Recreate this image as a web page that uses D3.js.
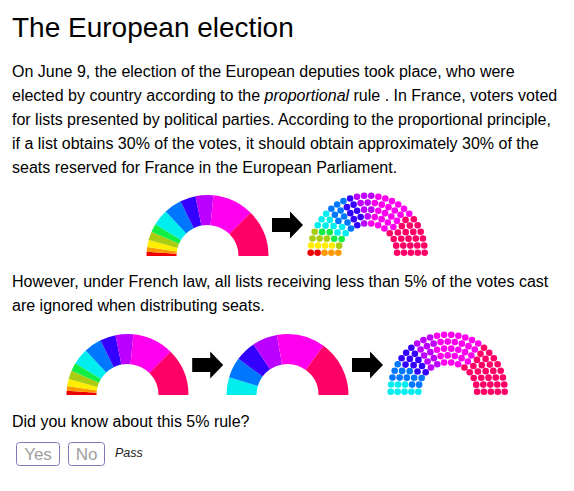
<!DOCTYPE html>
<html>
<head>
<meta charset="utf-8">
<script src="https://cdn.jsdelivr.net/npm/d3@7"></script>
<style>
  html, body { margin: 0; padding: 0; background: #fff; }
  svg { display: block; font-family: "Liberation Sans", Arial, Helvetica, sans-serif; }
</style>
</head>
<body>
<svg id="chart" width="574" height="491"></svg>
<script>
// ---- data ----
const listColors = ["#ee0000", "#ff9900", "#ffee00", "#aacc11", "#11ee44", "#00eeee", "#0077ff", "#3300ff", "#bb00ff", "#ff00ee", "#ff0066"];
const votesAll = [2.2, 2.5, 3.7, 4.6, 4.4, 8.6, 9.4, 8.3, 9.4, 21.9, 25.0];
const seatsProportional = [2, 3, 4, 5, 4, 9, 9, 8, 9, 22, 25];
const keptColors = ["#00eeee", "#0077ff", "#3300ff", "#bb00ff", "#ff00ee", "#ff0066"];
const votesKept = [9.4, 10.8, 10.9, 13.3, 25.7, 29.9];
const seatsThreshold = [8, 11, 11, 12, 27, 31];
const rowSeats = [14, 17, 20, 23, 26];

const titleText = "The European election";
const introLines = [
  ["On June 9, the election of the European deputies took place, who were"],
  ["elected by country according to the ", {i: "proportional"}, " rule . In France, voters voted"],
  ["for lists presented by political parties. According to the proportional principle,"],
  ["if a list obtains 30% of the votes, it should obtain approximately 30% of the"],
  ["seats reserved for France in the European Parliament."]
];
const lawLines = [
  "However, under French law, all lists receiving less than 5% of the votes cast",
  "are ignored when distributing seats."
];
const questionText = "Did you know about this 5% rule?";
const answers = ["Yes", "No"];

// ---- drawing ----
const svg = d3.select("#chart");

svg.append("text").attr("x", 12).attr("y", 37)
  .attr("font-size", 28).attr("fill", "#000").text(titleText);

function para(lines, y0, dy) {
  lines.forEach((parts, k) => {
    const t = svg.append("text").attr("x", 12).attr("y", y0 + k * dy)
      .attr("font-size", 16).attr("fill", "#000");
    (Array.isArray(parts) ? parts : [parts]).forEach(p => {
      if (typeof p === "string") t.append("tspan").text(p);
      else t.append("tspan").attr("font-style", "italic").text(p.i);
    });
  });
}
para(introLines, 77, 24);
para(lawLines, 287, 23.5);

const rOuter = 61, rInner = 31;
const arc = d3.arc().innerRadius(rInner).outerRadius(rOuter);
const pie = d3.pie().sort(null).startAngle(-Math.PI / 2).endAngle(Math.PI / 2);

function drawPie(cx, base, values, colors) {
  const g = svg.append("g").attr("transform", `translate(${cx},${base})`);
  g.selectAll("path").data(pie(values)).join("path")
    .attr("d", arc).attr("fill", (d, i) => colors[i]);
}

const parlOuter = 57, parlInner = 29.4, dotR = 3.3;
const rowRadius = d3.scaleLinear().domain([0, rowSeats.length - 1]).range([parlInner, parlOuter]);

function drawParliament(cx, base, seats, colors) {
  const pts = [];
  rowSeats.forEach((n, ri) => {
    const r = rowRadius(ri);
    const ang = d3.scaleLinear().domain([0, n - 1]).range([Math.PI, 0]);
    for (let j = 0; j < n; j++) pts.push({a: ang(j), r});
  });
  pts.sort((p, q) => d3.descending(p.a, q.a) || d3.descending(p.r, q.r));
  const owner = [];
  seats.forEach((s, i) => { for (let k = 0; k < s; k++) owner.push(i); });
  const g = svg.append("g").attr("transform", `translate(${cx},${base - dotR})`);
  g.selectAll("circle").data(pts).join("circle")
    .attr("cx", d => d.r * Math.cos(d.a))
    .attr("cy", d => -d.r * Math.sin(d.a))
    .attr("r", dotR)
    .attr("fill", (d, i) => colors[owner[i]]);
}

function drawArrow(cx, cy) {
  const p = d3.path();
  p.moveTo(cx - 15.5, cy - 7);
  p.lineTo(cx + 2.5, cy - 7);
  p.lineTo(cx + 2.5, cy - 13.5);
  p.lineTo(cx + 15.5, cy);
  p.lineTo(cx + 2.5, cy + 13.5);
  p.lineTo(cx + 2.5, cy + 7);
  p.lineTo(cx - 15.5, cy + 7);
  p.closePath();
  svg.append("path").attr("d", p.toString()).attr("fill", "#000");
}

// row 1
const base1 = 256;
drawPie(207.5, base1, votesAll, listColors);
drawArrow(287.5, base1 - 31);
drawParliament(367.7, base1, seatsProportional, listColors);

// row 2
const base2 = 395;
drawPie(127.5, base2, votesAll, listColors);
drawArrow(207.7, base2 - 30);
drawPie(287.5, base2, votesKept, keptColors);
drawArrow(367.5, base2 - 30);
drawParliament(447.7, base2, seatsThreshold, keptColors);

// question
svg.append("text").attr("x", 12).attr("y", 427)
  .attr("font-size", 16).attr("fill", "#000").text(questionText);

const btnX = [16, 68], btnW = [43, 36];
answers.forEach((a, i) => {
  svg.append("rect").attr("x", btnX[i] + 0.5).attr("y", 442.5)
    .attr("width", btnW[i]).attr("height", 23).attr("rx", 3)
    .attr("fill", "#fff").attr("stroke", "#7a7ab8").attr("stroke-width", 1);
  svg.append("text").attr("x", btnX[i] + 0.5 + btnW[i] / 2).attr("y", 460)
    .attr("text-anchor", "middle").attr("font-size", 17).attr("fill", "#a0a0a0").text(a);
});
svg.append("text").attr("x", 115).attr("y", 457)
  .attr("font-size", 12.5).attr("font-style", "italic").attr("fill", "#222").text("Pass");
</script>
</body>
</html>
